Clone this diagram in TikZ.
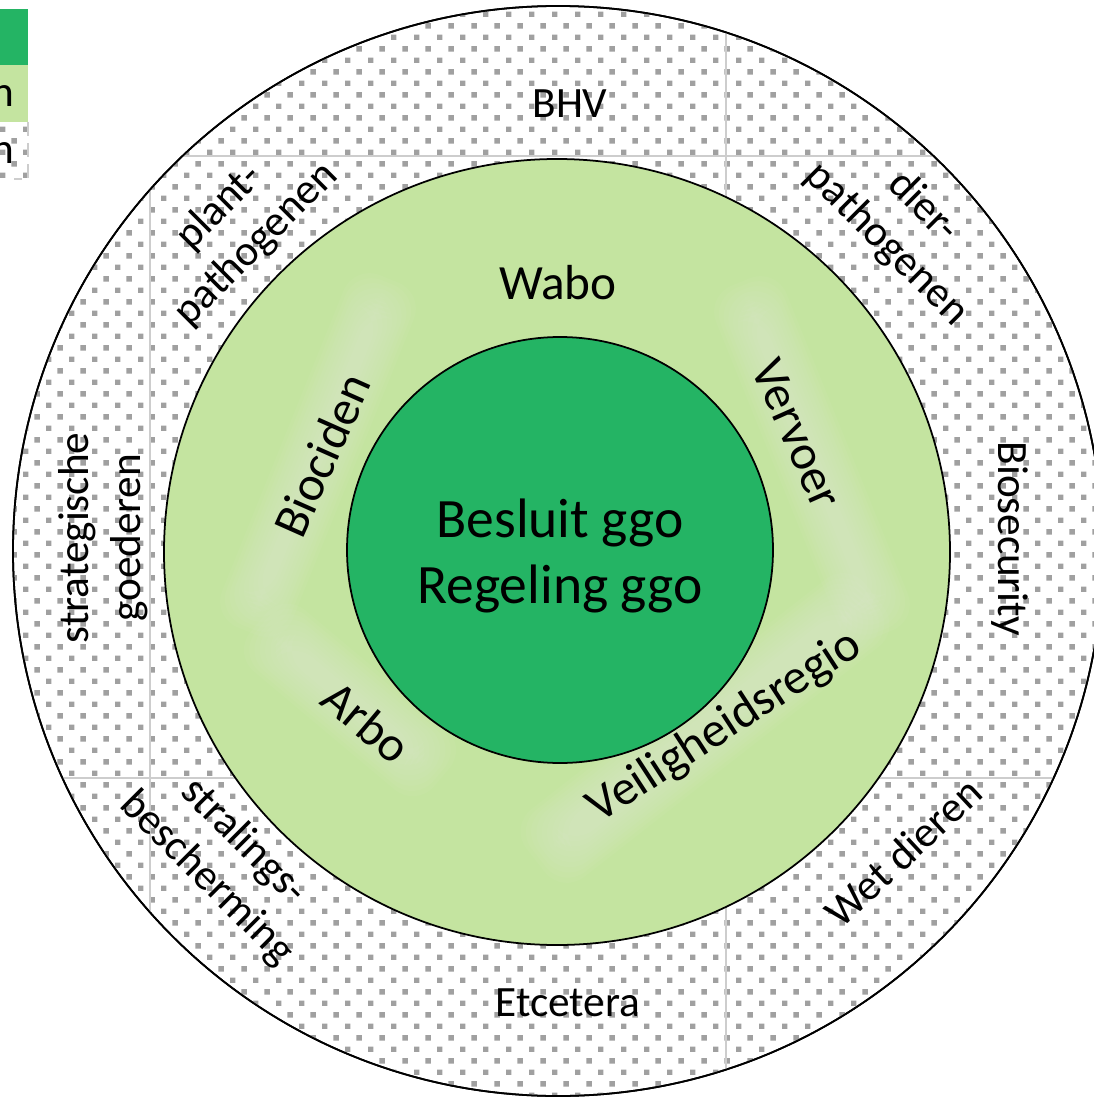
\documentclass[tikz,border=0pt]{standalone}
\usepackage{fontspec}
\setmainfont{Carlito}
\usetikzlibrary{patterns.meta}

\definecolor{ggodark}{RGB}{36,180,100}
\definecolor{ggolight}{RGB}{196,228,160}
\definecolor{dotgrey}{RGB}{160,160,160}
\definecolor{gridgrey}{RGB}{205,205,205}

\tikzdeclarepattern{
  name=greysquares,
  type=colored,
  bottom left={(0pt,0pt)},
  top right={(6.54pt,6.54pt)},
  tile size={(6.54pt,6.54pt)},
  code={
    \fill[dotgrey] (0pt,0pt) rectangle (1.5pt,1.5pt);
    \fill[dotgrey] (3.27pt,3.27pt) rectangle (4.77pt,4.77pt);
  }
}

\tikzset{
  lbl/.style={font=\fontsize{12.3}{14.8}\selectfont, align=center, inner sep=0pt},
  midlbl/.style={font=\fontsize{14}{16.8}\selectfont, align=center, inner sep=0pt},
  biglbl/.style={font=\fontsize{15.8}{19}\selectfont, align=center, inner sep=0pt},
  ring/.style={draw=black, line width=0.5pt},
  gridline/.style={draw=gridgrey, line width=0.4pt},
  glow/.style={fill=white, opacity=0.035}
}

\newcommand\softband[5]{%
  \begin{scope}[shift={(#1,#2)}, rotate=#3]
    \foreach \i in {0,...,9} {
      \fill[glow, rounded corners=8pt] ({-#4/2+\i*4},{-#5/2+\i*3.5}) rectangle ({#4/2-\i*4},{#5/2-\i*3.5});
    }
  \end{scope}}

\begin{document}
\begin{tikzpicture}[x=0.01cm, y=-0.01cm]
\useasboundingbox (0,0) rectangle (1093,1097);

% outer ring
\path[ring, fill=white] (558,551) circle[radius=545];
\path[pattern=greysquares] (558,551) circle[radius=545];
\begin{scope}
  \clip (558,551) circle[radius=545];
  \draw[gridline] (150,0) -- (150,1097);
  \draw[gridline] (726,0) -- (726,1097);
  \draw[gridline] (0,156) -- (1093,156);
  \draw[gridline] (0,778) -- (1093,778);
\end{scope}
\draw[ring] (558,551) circle[radius=545];

% middle ring
\path[ring, fill=ggolight] (557,552) circle[radius=393];
\softband{318}{455}{68}{380}{76}
\softband{812}{458}{-68}{380}{76}
\softband{350}{700}{-40}{240}{80}
\softband{705}{728}{38}{430}{86}

% inner circle
\path[ring, fill=ggodark] (560,550) circle[radius=213];

% legend (cut off at the left edge)
\fill[ggodark] (0,9) rectangle (28,65);
\fill[ggolight] (0,65) rectangle (28,122);
\fill[pattern=greysquares] (0,122) rectangle (28,179);
\draw[gridgrey, line width=0.4pt, dash pattern=on 4pt off 2pt] (28,122) -- (28,179) -- (14,179);
\node[lbl, anchor=base east] (leg2) at (15,107) {n};
\node[lbl, anchor=base east] (leg3) at (15,163) {n};

% labels outer ring
\node[lbl] (bhv) at (570,104) {BHV};
\node[lbl, rotate=45] (plant) at (238,226) {plant-\\pathogenen};
\node[lbl, rotate=-45] (dier) at (905,226) {dier-\\pathogenen};
\node[lbl, rotate=90] (strat) at (103,538) {strategische\\goederen};
\node[lbl, rotate=-90] (biosec) at (1010,539) {Biosecurity};
\node[lbl, rotate=-45] (stral) at (225,860) {stralings-\\bescherming};
\node[lbl, rotate=43] (wet) at (903,852) {Wet dieren};
\node[lbl] (etc) at (568,1003) {Etcetera};

% labels middle ring
\node[midlbl] (wabo) at (558,283) {Wabo};
\node[midlbl, rotate=66] (bioc) at (322,455) {Biociden};
\node[midlbl, rotate=-66] (vervoer) at (797,434) {Vervoer};
\node[midlbl, rotate=-40] (arbo) at (367,722) {Arbo};
\node[midlbl, rotate=33] (veilig) at (725,727) {Veiligheidsregio};

% centre
\node[biglbl] (ggo) at (560,556) {Besluit ggo\\Regeling ggo};
\end{tikzpicture}
\end{document}
